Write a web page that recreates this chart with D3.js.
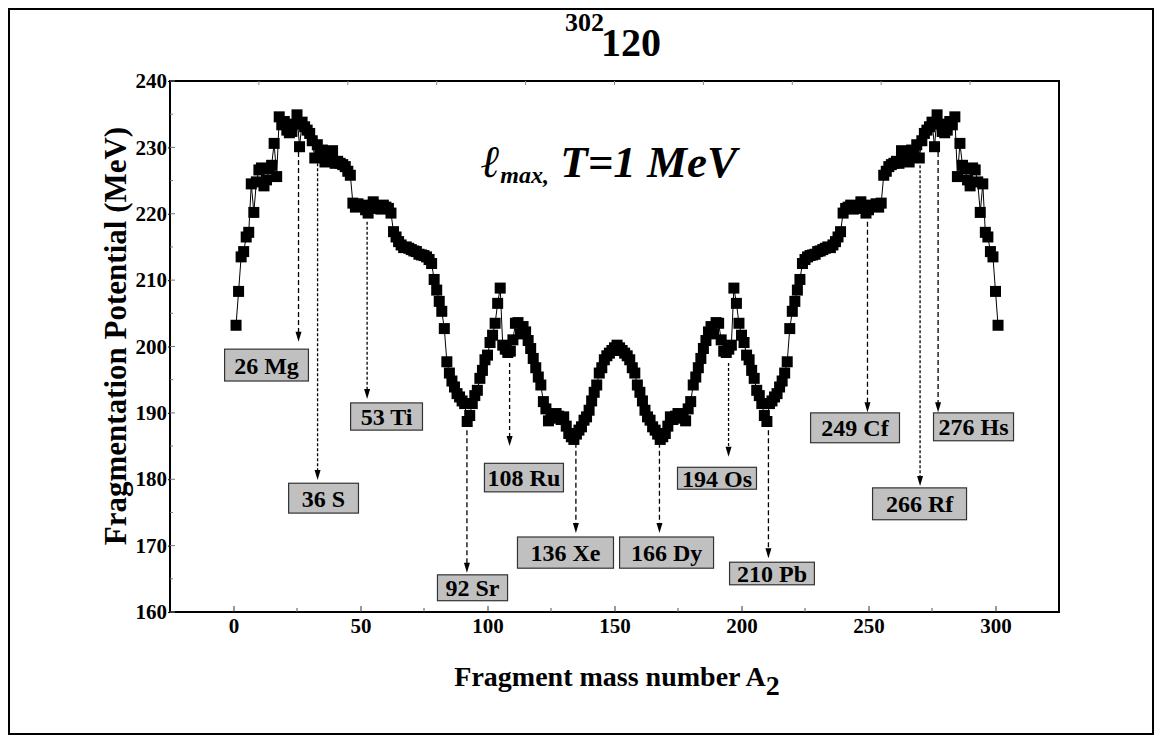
<html lang="en">
  <head>
    <meta charset="utf-8">
    <script src="https://d3js.org/d3.v7.min.js"></script>
    <style type="text/css">
body {
  margin: 0;
  background: white;
}
svg text {
  font-family: "Liberation Serif", "Times New Roman", serif;
  font-weight: bold;
}
    </style>
  </head>
  <body>
    <div id="chart"></div>

    <script type="text/javascript">
const width = 1163;
const height = 744;
const margin = {top: 81, right: 104, bottom: 132, left: 170};

// fragmentation potential (MeV) for A2 = 1 ... 301
const massNumbers = d3.range(1, 302);
const potential = [
  203.2, 208.3, 213.5, 214.3, 216.5, 217.2, 224.5, 220.2, 224.8, 226.6,
  226.9, 224.2, 225.1, 226.8, 227.3, 230.6, 225.6, 234.6, 233.4, 233.9,
  232.6, 232.2, 232.4, 233.5, 234.9, 230.1, 233.8, 233.1, 232.6, 232.1,
  231.0, 228.4, 230.4, 229.2, 229.6, 227.8, 228.6, 228.1, 229.5, 227.6,
  227.9, 227.6, 227.4, 227.1, 226.4, 225.8, 221.6, 221.0, 221.5, 221.2,
  221.3, 220.6, 220.1, 220.8, 221.8, 221.0, 221.1, 220.7, 221.3, 221.0,
  220.8, 220.1, 217.3, 216.5, 215.8, 215.3, 214.9, 215.0, 214.8, 214.6,
  214.4, 214.3, 213.9, 213.8, 213.7, 213.5, 213.1, 212.5, 210.1, 208.5,
  206.8, 205.3, 202.7, 197.7, 196.0, 194.8, 193.9, 192.9, 192.4, 191.8,
  191.4, 188.7, 189.6, 191.4, 192.6, 193.4, 195.2, 196.4, 198.0, 198.7,
  200.6, 201.7, 203.5, 206.5, 208.8, 200.2, 199.6, 199.1, 199.3, 201.0,
  203.5, 203.6, 201.9, 203.0, 202.2, 200.9, 199.7, 198.2, 196.8, 195.4,
  194.2, 191.7, 190.6, 188.8, 189.6, 189.2, 189.9, 189.5, 189.0, 189.4,
  188.0, 186.9, 186.4, 186.0, 186.8, 187.4, 187.9, 188.9, 189.4, 190.4,
  191.8, 193.1, 194.2, 196.0, 196.8, 198.0, 198.6, 199.0, 199.4, 199.8,
  200.2,
  199.8, 199.4, 199.0, 198.6, 198.0, 196.8, 196.0, 194.2, 193.1, 191.8,
  190.4, 189.4, 188.9, 187.9, 187.4, 186.8, 186.0, 186.4, 186.9, 188.0,
  189.4, 189.0, 189.5, 189.9, 189.2, 189.6, 188.8, 190.6, 191.7, 194.2,
  195.4, 196.8, 198.2, 199.7, 200.9, 202.2, 203.0, 201.9, 203.6, 203.5,
  201.0, 199.3, 199.1, 199.6, 200.2, 208.8, 206.5, 203.5, 201.7, 200.6,
  198.7, 198.0, 196.4, 195.2, 193.4, 192.6, 191.4, 189.6, 188.7, 191.4,
  191.8, 192.4, 192.9, 193.9, 194.8, 196.0, 197.7, 202.7, 205.3, 206.8,
  208.5, 210.1, 212.5, 213.1, 213.5, 213.7, 213.8, 213.9, 214.3, 214.4,
  214.6, 214.8, 215.0, 214.9, 215.3, 215.8, 216.5, 217.3, 220.1, 220.8,
  221.0, 221.3, 220.7, 221.1, 221.0, 221.8, 220.8, 220.1, 220.6, 221.3,
  221.2, 221.5, 221.0, 221.6, 225.8, 226.4, 227.1, 227.4, 227.6, 227.9,
  227.6, 229.5, 228.1, 228.6, 227.8, 229.6, 229.2, 230.4, 228.4, 231.0,
  232.1, 232.6, 233.1, 233.8, 230.1, 234.9, 233.5, 232.4, 232.2, 232.6,
  233.9, 233.4, 234.6, 225.6, 230.6, 227.3, 226.8, 225.1, 224.2, 226.9,
  226.6, 224.8, 220.2, 224.5, 217.2, 216.5, 214.3, 213.5, 208.3, 203.2
];

const xTicks = [0, 50, 100, 150, 200, 250, 300];
const xMinorTicks = [25, 75, 125, 175, 225, 275];
const yTicks = [160, 170, 180, 190, 200, 210, 220, 230, 240];
const yMinorTicks = [165, 175, 185, 195, 205, 215, 225, 235];
const topTicks = [10, 45, 80, 115, 150, 185, 220, 255, 290];

// labelled fragments: arrow (mass, from, to in MeV) and label box in data units
const labelText = ["26 Mg", "36 S", "53 Ti", "92 Sr", "108 Ru", "136 Xe",
                   "166 Dy", "194 Os", "210 Pb", "249 Cf", "266 Rf", "276 Hs"];
const arrowMass = [25.6, 33.1, 52.6, 91.9, 108.7, 134.8, 167.7, 194.9, 210.6, 249.6, 270.3, 277.4];
const arrowFrom = [229.3, 227.6, 218.8, 187.4, 197.5, 185.5, 185.5, 197.5, 187.4, 218.8, 227.3, 229.3];
const arrowTo = [200.7, 179.9, 192.1, 165.9, 185.0, 171.9, 171.9, 183.4, 168.1, 190.1, 179.0, 190.1];
const boxLeft = [-3.5, 21.7, 46.1, 80.3, 98.8, 111.8, 152.0, 174.8, 195.3, 227.2, 251.6, 275.6];
const boxRight = [29.5, 49.2, 74.4, 107.9, 129.9, 149.6, 189.0, 205.9, 228.7, 262.2, 288.6, 307.1];
const boxTop = [199.6, 179.4, 191.5, 165.6, 182.4, 171.3, 171.3, 181.8, 167.5, 190.0, 178.7, 190.0];
const boxBottom = [194.8, 174.9, 187.4, 161.7, 178.1, 166.6, 166.6, 178.5, 164.1, 185.5, 173.9, 185.8];
const arrowDash = ["5,3", "3,2", "3,2", "5,3", "4,3", "5,3", "5,3", "3,2", "5,3", "5,3", "3,2", "5,3"];

const data = massNumbers.map((a, i) => ({a: a, v: potential[i]}));

const x = d3.scaleLinear()
  .domain([-25, 325])
  .range([margin.left, width - margin.right]);

const y = d3.scaleLinear()
  .domain([160, 240])
  .range([height - margin.bottom, margin.top]);

const svg = d3.select("#chart").append("svg")
  .attr("width", width)
  .attr("height", height);

// outer frame
svg.append("rect")
  .attr("x", 9).attr("y", 9)
  .attr("width", width - 19).attr("height", height - 19)
  .attr("fill", "none")
  .attr("stroke", "black")
  .attr("stroke-width", 2);

// plot frame
svg.append("rect")
  .attr("x", margin.left).attr("y", margin.top)
  .attr("width", width - margin.left - margin.right)
  .attr("height", height - margin.top - margin.bottom)
  .attr("fill", "none")
  .attr("stroke", "black")
  .attr("stroke-width", 2);

// bottom axis
const xAxis = svg.append("g")
  .attr("transform", `translate(0,${height - margin.bottom})`)
  .call(d3.axisBottom(x).tickValues(xTicks).tickSize(-6).tickPadding(6))
  .call(g => g.select(".domain").remove());
xAxis.selectAll("text")
  .attr("font-size", 21)
  .attr("fill", "black");
xAxis.selectAll(".tick line").attr("stroke", "#333");

svg.append("g")
  .selectAll("line")
  .data(xMinorTicks)
  .join("line")
    .attr("x1", d => x(d)).attr("x2", d => x(d))
    .attr("y1", height - margin.bottom)
    .attr("y2", height - margin.bottom - 4)
    .attr("stroke", "#555");

svg.append("g")
  .selectAll("line")
  .data(topTicks)
  .join("line")
    .attr("x1", d => x(d)).attr("x2", d => x(d))
    .attr("y1", margin.top)
    .attr("y2", margin.top + 4)
    .attr("stroke", "#888");

// left axis
const yAxis = svg.append("g")
  .attr("transform", `translate(${margin.left},0)`)
  .call(d3.axisLeft(y).tickValues(yTicks).tickSize(2).tickPadding(1))
  .call(g => g.select(".domain").remove());
yAxis.selectAll("text")
  .attr("font-size", 21)
  .attr("fill", "black");

svg.append("g")
  .selectAll("line")
  .data(yTicks.concat(yMinorTicks))
  .join("line")
    .attr("x1", margin.left)
    .attr("x2", d => margin.left + (yTicks.includes(d) ? 5 : 3))
    .attr("y1", d => y(d)).attr("y2", d => y(d))
    .attr("stroke", "#777");

// connecting line and square markers
const line = d3.line()
  .x(d => x(d.a))
  .y(d => y(d.v));

svg.append("path")
  .datum(data)
  .attr("fill", "none")
  .attr("stroke", "black")
  .attr("stroke-width", 1)
  .attr("d", line);

svg.append("g")
  .selectAll("rect")
  .data(data)
  .join("rect")
    .attr("x", d => x(d.a) - 5.5)
    .attr("y", d => y(d.v) - 5.5)
    .attr("width", 11)
    .attr("height", 11)
    .attr("fill", "black");

// arrows and labels
const labels = svg.append("g")
  .selectAll("g")
  .data(labelText.map((t, i) => i))
  .join("g");

labels.append("line")
  .attr("x1", i => x(arrowMass[i])).attr("x2", i => x(arrowMass[i]))
  .attr("y1", i => y(arrowFrom[i]))
  .attr("y2", i => y(arrowTo[i]) - 8)
  .attr("stroke", "black")
  .attr("stroke-width", 1.3)
  .attr("stroke-dasharray", i => arrowDash[i]);

labels.append("path")
  .attr("d", i => {
    let ax = x(arrowMass[i]), ay = y(arrowTo[i]);
    return `M${ax - 3},${ay - 10}L${ax + 3},${ay - 10}L${ax},${ay}Z`;
  })
  .attr("fill", "black");

labels.append("rect")
  .attr("x", i => x(boxLeft[i]))
  .attr("y", i => y(boxTop[i]))
  .attr("width", i => x(boxRight[i]) - x(boxLeft[i]))
  .attr("height", i => y(boxBottom[i]) - y(boxTop[i]))
  .attr("fill", "#c0c0c0")
  .attr("stroke", "#333")
  .attr("stroke-width", 1.2);

labels.append("text")
  .attr("x", i => (x(boxLeft[i]) + x(boxRight[i])) / 2)
  .attr("y", i => (y(boxTop[i]) + y(boxBottom[i])) / 2)
  .attr("dy", "0.36em")
  .attr("text-anchor", "middle")
  .attr("font-size", 24)
  .text(i => labelText[i]);

// title 302 120
svg.append("text")
  .attr("x", 604).attr("y", 31)
  .attr("text-anchor", "end")
  .attr("font-size", 26)
  .text("302");
svg.append("text")
  .attr("x", 601).attr("y", 56)
  .attr("font-size", 40)
  .text("120");

// l_max, T=1 MeV
const note = svg.append("text")
  .attr("x", 481).attr("y", 177)
  .attr("font-style", "italic")
  .attr("font-size", 45);
note.append("tspan").text("\u2113");
note.append("tspan")
  .attr("font-size", 24)
  .attr("dy", 6)
  .text("max,");
note.append("tspan")
  .attr("dy", -6)
  .text(" T=1 MeV");

// axis titles
const xTitle = svg.append("text")
  .attr("x", 617).attr("y", 686)
  .attr("text-anchor", "middle")
  .attr("font-size", 28);
xTitle.append("tspan").text("Fragment mass number A");
xTitle.append("tspan")
  .attr("dy", 9)
  .text("2");

svg.append("text")
  .attr("transform", "translate(126,336) rotate(-90)")
  .attr("text-anchor", "middle")
  .attr("font-size", 31)
  .text("Fragmentation Potential (MeV)");
    </script>
  </body>
</html>
